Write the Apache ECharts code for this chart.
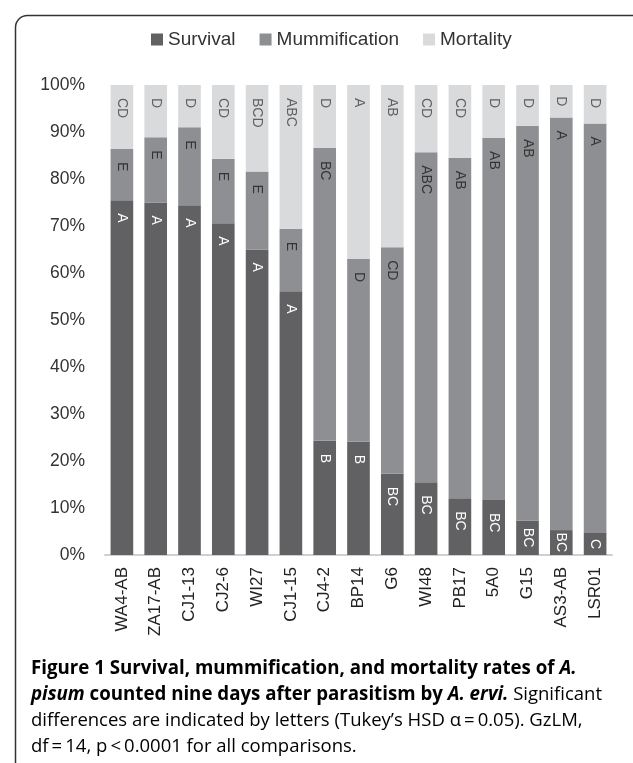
<!DOCTYPE html>
<html>
<head>
<meta charset="utf-8">
<script src="https://cdn.jsdelivr.net/npm/echarts@6/dist/echarts.min.js"></script>
<style>
html,body{margin:0;padding:0;background:#fff;}
#chart{width:633px;height:763px;}
</style>
</head>
<body>
<div id="chart"></div>
<script>
const categories = ['WA4-AB','ZA17-AB','CJ1-13','CJ2-6','WI27','CJ1-15','CJ4-2','BP14','G6','WI48','PB17','5A0','G15','AS3-AB','LSR01'];
const survival = [75.5,75.0,74.4,70.6,65.0,56.1,24.3,24.1,17.3,15.5,12.1,11.7,7.3,5.3,4.7];
const mummification = [10.9,13.9,16.6,13.7,16.6,13.3,62.3,38.9,48.2,70.2,72.4,77.0,84.0,87.8,87.1];
const mortality = [13.6,11.1,9.0,15.7,18.4,30.6,13.4,37.0,34.5,14.3,15.5,11.3,8.7,6.9,8.2];
const survivalLetters = ['A','A','A','A','A','A','B','B','BC','BC','BC','BC','BC','BC','C'];
const mummificationLetters = ['E','E','E','E','E','E','BC','D','CD','ABC','AB','AB','AB','A','A'];
const mortalityLetters = ['CD','D','D','CD','BCD','ABC','D','A','AB','CD','CD','D','D','D','D'];
const yTicks = [0,10,20,30,40,50,60,70,80,90,100];

const chart = echarts.init(document.getElementById('chart'), null, {renderer:'canvas'});
const pxPerUnit = 4.7;
function makeData(values, letters){
  return values.map((v,i)=>{
    const seg = v*pxPerUnit;
    const txt = letters[i].length*10;
    const d = Math.max(2, Math.min(13, (seg-txt)/2));
    return {value:v, label:{distance:d, formatter:letters[i]}};
  });
}
function series(name, values, letters, color, labelColor){
  return {
    name, type:'bar', stack:'total', barCategoryGap:'33%',
    itemStyle:{color},
    label:{show:true, position:'insideTop', rotate:-90, align:'left', verticalAlign:'middle',
      color:labelColor, fontSize:14, fontFamily:'Liberation Sans'},
    data: makeData(values, letters)
  };
}
const option = {
  backgroundColor:'#fff',
  animation:false,
  legend:{
    top:25, left:146, icon:'rect', itemWidth:12, itemHeight:12, itemGap:24,
    textStyle:{fontSize:19, color:'#333', fontFamily:'Liberation Sans'},
    data:['Survival','Mummification','Mortality']
  },
  grid:{left:105, right:21, top:85, bottom:208},
  xAxis:{
    type:'category', data:categories,
    axisLine:{lineStyle:{color:'#d0d0d0', width:2}},
    axisTick:{show:false},
    axisLabel:{rotate:90, margin:12, fontSize:17, color:'#222', fontFamily:'Liberation Sans', interval:0}
  },
  yAxis:{
    type:'value', min:0, max:100, interval:10,
    axisLine:{show:false}, axisTick:{show:false}, splitLine:{show:false},
    axisLabel:{formatter:v=>yTicks.includes(v)?v+'%':'', margin:20, fontSize:17.5, color:'#333', fontFamily:'Liberation Sans'}
  },
  series:[
    series('Survival', survival, survivalLetters, '#616163', '#ffffff'),
    series('Mummification', mummification, mummificationLetters, '#8e8f92', '#333333'),
    series('Mortality', mortality, mortalityLetters, '#d9dadc', '#606060')
  ],
  graphic:[
    {type:'rect', left:13, top:13, shape:{width:640, height:800, r:12}, style:{fill:'none', stroke:'#333', lineWidth:1.5}, z:-1},
    {type:'text', left:31, top:659, style:{
      text:'{b|Figure 1 Survival, mummification, and mortality rates of }{bi|A.}\n{bi|pisum}{b| counted nine days after parasitism by }{bi|A. ervi.}{r| Significant}\n{r|differences are indicated by letters (Tukey\u2019s HSD \u03b1\u2009=\u20090.05). GzLM,}\n{r|df\u2009=\u200914, p\u2009<\u20090.0001 for all comparisons.}',
      rich:{
        b:{fontFamily:'Open Sans', fontWeight:'bold', fontSize:18.7, color:'#222', lineHeight:26},
        bi:{fontFamily:'Open Sans', fontWeight:'bold', fontStyle:'italic', fontSize:18.7, color:'#222', lineHeight:26},
        r:{fontFamily:'Open Sans', fontSize:18.5, color:'#444', lineHeight:26}
      }
    }}
  ]
};
chart.setOption(option);
</script>
</body>
</html>
